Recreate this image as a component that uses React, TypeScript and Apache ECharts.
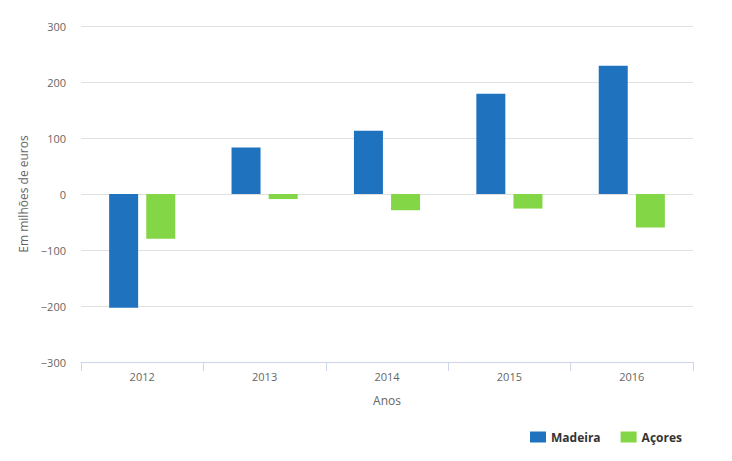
import React, { useEffect, useRef } from "react";
import * as echarts from "echarts";

const categories = ["2012", "2013", "2014", "2015", "2016"];
const madeira = [-203, 83, 113, 179, 229];
const acores = [-80, -9, -29, -26, -60];
const yTicks = { min: -300, max: 300, interval: 100 };

const FONT = "'Open Sans', 'DejaVu Sans', sans-serif";

export default function App() {
  const ref = useRef<HTMLDivElement>(null);
  useEffect(() => {
    const chart = echarts.init(ref.current!, null, { renderer: "svg" });
    chart.setOption({
      animation: false,
      textStyle: { fontFamily: FONT },
      grid: { left: 81, right: 39, top: 26, bottom: 99, containLabel: false },
      legend: {
        right: 45,
        top: 426,
        itemWidth: 16,
        itemHeight: 11,
        itemGap: 20,
        icon: "rect",
        textStyle: { fontFamily: FONT, fontSize: 12, fontWeight: "bold", color: "#333" },
        data: ["Madeira", "Açores"],
      },
      xAxis: {
        type: "category",
        data: categories,
        name: "Anos",
        nameLocation: "middle",
        nameGap: 32,
        nameTextStyle: { color: "#666", fontSize: 12, fontFamily: FONT },
        axisLine: { onZero: false, lineStyle: { color: "#ccd6eb" } },
        axisTick: { show: true, length: 9, lineStyle: { color: "#ccd6eb" } },
        axisLabel: { color: "#666", fontSize: 11, margin: 9, fontFamily: FONT },
      },
      yAxis: {
        type: "value",
        min: yTicks.min,
        max: yTicks.max,
        interval: yTicks.interval,
        name: "Em milhões de euros",
        nameLocation: "middle",
        nameGap: 48,
        nameRotate: 90,
        nameTextStyle: { color: "#666", fontSize: 12, fontFamily: FONT },
        axisLine: { show: false },
        axisTick: { show: false },
        splitLine: {
          lineStyle: { color: "#e0e0e0" },
          showMinLine: false,
        },
        axisLabel: {
          color: "#666",
          fontSize: 11,
          margin: 15,
          fontFamily: FONT,
          formatter: (v: number) => String(v).replace("-", "\u2212"),
        },
      },
      series: [
        {
          name: "Madeira",
          type: "bar",
          data: madeira,
          barWidth: 29,
          barGap: "28%",
          itemStyle: { color: "#1f72be" },
        },
        {
          name: "Açores",
          type: "bar",
          data: acores,
          barWidth: 29,
          itemStyle: { color: "#83d645" },
        },
      ],
    });
    return () => chart.dispose();
  }, []);
  return (
    <div
      ref={ref}
      style={{ position: "fixed", left: 0, top: 0, width: 732, height: 461, background: "#fff" }}
    />
  );
}
